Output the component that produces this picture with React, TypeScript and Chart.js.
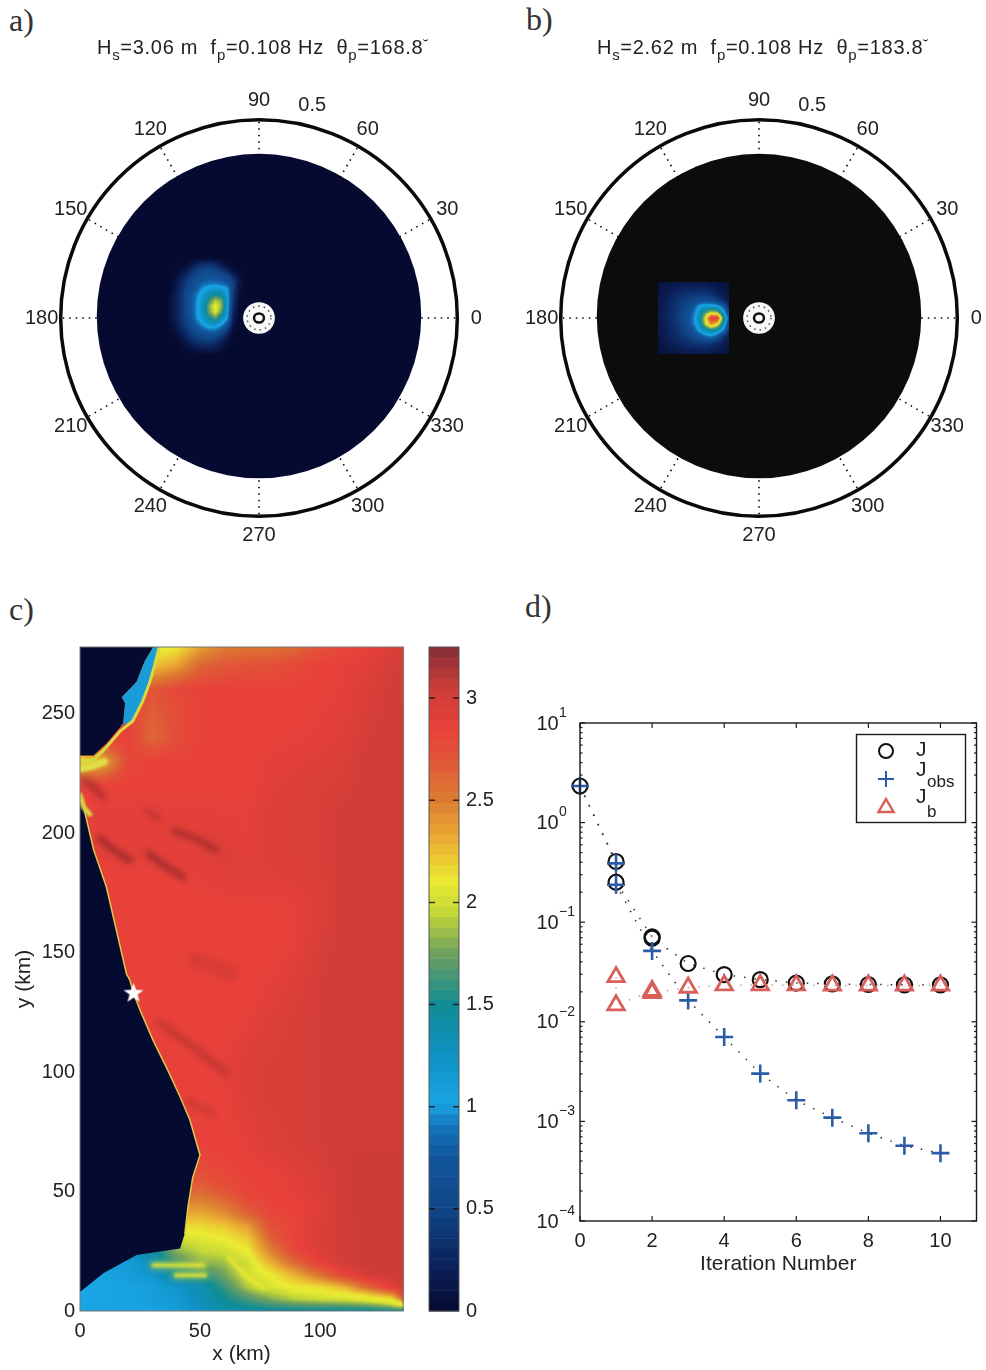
import React, { useEffect, useRef } from 'react';
import { Chart, registerables } from 'chart.js';
Chart.register(...registerables);

const FONT = '"Liberation Sans"';
const INK = '#222222';

// ---------- colour map ----------
const cmapValues = [0, 0.25, 0.5, 0.75, 0.9, 1.02, 1.25, 1.5, 1.75, 1.95, 2.1, 2.3, 2.5, 2.7, 2.85, 3.05, 3.25];
const cmapColors = [
  [5, 10, 48], [12, 36, 95], [16, 70, 135], [18, 85, 155], [20, 115, 185], [25, 165, 230],
  [15, 145, 195], [15, 140, 150], [110, 160, 95], [195, 215, 55], [235, 235, 50], [235, 175, 50],
  [220, 125, 50], [225, 85, 55], [232, 65, 58], [205, 60, 55], [130, 45, 55],
];
function colourOf(v: number): number[] {
  if (v <= cmapValues[0]) return cmapColors[0];
  for (let i = 1; i < cmapValues.length; i++) {
    if (v <= cmapValues[i]) {
      const t = (v - cmapValues[i - 1]) / (cmapValues[i] - cmapValues[i - 1]);
      return cmapColors[i].map((c, k) => cmapColors[i - 1][k] + (c - cmapColors[i - 1][k]) * t);
    }
  }
  return cmapColors[cmapColors.length - 1];
}

// ---------- polar panels ----------
const polarAngles = [0, 30, 60, 90, 120, 150, 180, 210, 240, 270, 300, 330];
const polarOuterRadius = 0.5;
const polarDiskRadius = 0.409;
const polarDiskCentreY = 0.005;
const polarHoleRadius = 0.04;
const polarHoleDotsRadius = 0.03;
const polarInnerRingRadius = 0.0125;
const polarLabelRadius = 0.548;

const specAXs = [-0.23, -0.215, -0.2, -0.185, -0.17, -0.155, -0.14, -0.125, -0.11, -0.095, -0.08, -0.065, -0.05, -0.035];
const specAYs = [0.15, 0.135, 0.12, 0.105, 0.09, 0.075, 0.06, 0.045, 0.03, 0.015, 0, -0.015, -0.03, -0.045, -0.06, -0.075, -0.09];
const specARows = [
  [0, 0, 0, 0, 0, 0.02, 0.04, 0.04, 0.02, 0, 0, 0, 0, 0],
  [0, 0, 0, 0.03, 0.12, 0.25, 0.32, 0.35, 0.28, 0.15, 0.04, 0, 0, 0],
  [0, 0, 0.05, 0.15, 0.32, 0.45, 0.52, 0.55, 0.5, 0.38, 0.25, 0.06, 0, 0],
  [0, 0.02, 0.12, 0.3, 0.47, 0.6, 0.65, 0.7, 0.65, 0.6, 0.5, 0.3, 0.08, 0],
  [0, 0.05, 0.2, 0.4, 0.55, 0.7, 0.8, 0.85, 0.85, 0.8, 0.7, 0.45, 0.12, 0],
  [0, 0.08, 0.28, 0.45, 0.6, 0.8, 1.0, 1.1, 1.15, 1.1, 1.0, 0.45, 0.08, 0],
  [0, 0.12, 0.3, 0.5, 0.7, 0.95, 1.15, 1.35, 1.45, 1.4, 1.1, 0.4, 0.05, 0],
  [0.01, 0.15, 0.32, 0.5, 0.75, 1.0, 1.25, 1.6, 1.9, 1.75, 1.15, 0.35, 0.02, 0],
  [0.02, 0.15, 0.32, 0.5, 0.75, 1.02, 1.3, 1.8, 2.1, 1.85, 1.15, 0.3, 0, 0],
  [0.02, 0.15, 0.32, 0.5, 0.75, 1.02, 1.25, 1.75, 2.05, 1.7, 1.1, 0.25, 0, 0],
  [0.01, 0.14, 0.3, 0.48, 0.7, 1.0, 1.2, 1.5, 1.7, 1.35, 1.02, 0.2, 0, 0],
  [0, 0.1, 0.28, 0.42, 0.62, 0.85, 1.05, 1.2, 1.25, 1.05, 0.75, 0.1, 0, 0],
  [0, 0.06, 0.2, 0.35, 0.5, 0.65, 0.8, 0.9, 0.9, 0.7, 0.4, 0.05, 0, 0],
  [0, 0.02, 0.12, 0.26, 0.4, 0.5, 0.55, 0.6, 0.55, 0.4, 0.2, 0, 0, 0],
  [0, 0, 0.04, 0.14, 0.26, 0.35, 0.4, 0.4, 0.35, 0.22, 0.06, 0, 0, 0],
  [0, 0, 0, 0.05, 0.12, 0.18, 0.2, 0.2, 0.18, 0.1, 0, 0, 0, 0],
  [0, 0, 0, 0, 0, 0.02, 0.04, 0.04, 0.02, 0, 0, 0, 0, 0],
];

const specBXs = [-0.255, -0.24, -0.225, -0.21, -0.195, -0.18, -0.165, -0.15, -0.135, -0.12, -0.105, -0.09, -0.075];
const specBYs = [0.09, 0.075, 0.06, 0.045, 0.03, 0.015, 0, -0.015, -0.03, -0.045, -0.06, -0.075, -0.09];
const specBRows = [
  [0.06, 0.1, 0.1, 0.13, 0.15, 0.15, 0.15, 0.15, 0.15, 0.12, 0.1, 0.08, 0.06],
  [0.1, 0.14, 0.15, 0.2, 0.22, 0.25, 0.25, 0.25, 0.25, 0.2, 0.15, 0.12, 0.08],
  [0.1, 0.15, 0.22, 0.28, 0.32, 0.35, 0.38, 0.4, 0.4, 0.35, 0.25, 0.15, 0.1],
  [0.12, 0.18, 0.25, 0.32, 0.4, 0.45, 0.5, 0.55, 0.6, 0.55, 0.42, 0.25, 0.15],
  [0.14, 0.2, 0.28, 0.36, 0.45, 0.55, 0.7, 1.05, 1.15, 1.15, 1.05, 0.75, 0.25],
  [0.15, 0.2, 0.28, 0.36, 0.48, 0.6, 0.85, 1.25, 1.65, 1.9, 1.8, 1.15, 0.45],
  [0.15, 0.22, 0.28, 0.38, 0.5, 0.65, 0.95, 1.35, 2.05, 2.9, 2.85, 1.6, 0.7],
  [0.15, 0.2, 0.28, 0.36, 0.48, 0.6, 0.9, 1.25, 1.95, 2.45, 2.15, 1.35, 0.5],
  [0.12, 0.2, 0.25, 0.34, 0.42, 0.55, 0.75, 1.1, 1.35, 1.55, 1.35, 1.0, 0.3],
  [0.12, 0.15, 0.25, 0.3, 0.38, 0.45, 0.55, 0.7, 0.9, 1.0, 0.8, 0.4, 0.18],
  [0.08, 0.15, 0.2, 0.25, 0.3, 0.35, 0.4, 0.45, 0.5, 0.45, 0.35, 0.22, 0.12],
  [0.08, 0.12, 0.15, 0.17, 0.2, 0.25, 0.25, 0.28, 0.28, 0.25, 0.2, 0.15, 0.08],
  [0.04, 0.08, 0.08, 0.1, 0.12, 0.15, 0.15, 0.15, 0.15, 0.15, 0.12, 0.08, 0.06],
];

// ---------- map panel ----------
const mapXTicks = [0, 50, 100];
const mapYTicks = [0, 50, 100, 150, 200, 250];
const mapXs = [0, 10, 20, 30, 40, 50, 60, 70, 80, 90, 100, 110, 120, 130, 135];
const mapYs = [0, 5, 10, 15, 20, 25, 30, 35, 40, 45, 50, 55, 60, 70, 80, 90, 100, 110, 120, 130, 140, 150, 160, 170, 180, 190, 200, 210, 220, 230, 240, 250, 260, 270, 278];
const mapRows = [
  [1.05, 1.05, 1.05, 1.05, 1.1, 1.25, 1.4, 1.42, 1.45, 1.45, 1.45, 1.45, 1.45, 1.45, 1.45],
  [1.02, 1.02, 1.05, 1.1, 1.15, 1.3, 1.5, 1.65, 1.8, 1.92, 1.97, 2, 2.05, 2.15, 2.7],
  [1.02, 1.02, 1.05, 1.1, 1.2, 1.35, 1.6, 1.9, 2.05, 2.1, 2.15, 2.3, 2.6, 2.9, 3.05],
  [1.05, 1.05, 1.1, 1.2, 1.45, 1.55, 1.75, 2, 2.1, 2.3, 2.55, 2.8, 3, 3.05, 3.05],
  [1.1, 1.1, 1.1, 1.3, 1.6, 1.8, 1.85, 2, 2.3, 2.6, 2.85, 3, 3.05, 3.05, 3.05],
  [1.3, 1.3, 1.3, 1.4, 1.8, 1.95, 2, 2.1, 2.5, 2.8, 2.95, 3.02, 3.05, 3.05, 3.05],
  [2, 2, 2, 2, 2, 2.05, 2.1, 2.2, 2.65, 2.85, 2.95, 3.02, 3.05, 3.05, 3.05],
  [2.1, 2.1, 2.1, 2.1, 2.1, 2.15, 2.2, 2.35, 2.75, 2.85, 2.95, 3.02, 3.05, 3.05, 3.05],
  [2.3, 2.3, 2.3, 2.3, 2.3, 2.3, 2.4, 2.6, 2.8, 2.85, 2.92, 3.02, 3.05, 3.05, 3.05],
  [2.45, 2.45, 2.45, 2.45, 2.45, 2.45, 2.55, 2.75, 2.85, 2.85, 2.92, 3.03, 3.05, 3.05, 3.05],
  [2.6, 2.6, 2.6, 2.6, 2.6, 2.6, 2.7, 2.82, 2.85, 2.88, 2.95, 3.03, 3.05, 3.05, 3.05],
  [2.7, 2.7, 2.7, 2.7, 2.7, 2.7, 2.78, 2.85, 2.85, 2.9, 2.95, 3.03, 3.05, 3.05, 3.05],
  [2.78, 2.78, 2.78, 2.78, 2.78, 2.78, 2.82, 2.85, 2.87, 2.92, 2.97, 3.03, 3.05, 3.05, 3.05],
  [2.85, 2.85, 2.85, 2.85, 2.85, 2.85, 2.85, 2.87, 2.95, 2.97, 3, 3.03, 3.03, 3.03, 3.03],
  [2.85, 2.85, 2.85, 2.85, 2.85, 2.85, 2.85, 2.9, 2.96, 2.97, 3, 3.03, 3.03, 3.03, 3.03],
  [2.85, 2.85, 2.85, 2.85, 2.85, 2.85, 2.85, 2.93, 2.97, 2.97, 3, 3.03, 3.03, 3.03, 3.03],
  [2.85, 2.85, 2.85, 2.85, 2.85, 2.85, 2.88, 2.93, 2.97, 2.97, 3, 3.03, 3.03, 3.03, 3.03],
  [2.85, 2.85, 2.85, 2.85, 2.85, 2.85, 2.86, 2.92, 2.96, 2.97, 3, 3.03, 3.03, 3.03, 3.03],
  [2.85, 2.85, 2.85, 2.85, 2.85, 2.85, 2.85, 2.87, 2.95, 2.97, 3, 3.03, 3.03, 3.03, 3.03],
  [2.85, 2.85, 2.85, 2.85, 2.85, 2.85, 2.85, 2.85, 2.9, 2.95, 3, 3.03, 3.03, 3.03, 3.03],
  [2.85, 2.85, 2.85, 2.85, 2.85, 2.85, 2.85, 2.85, 2.87, 2.93, 3, 3.03, 3.03, 3.03, 3.03],
  [2.85, 2.85, 2.85, 2.85, 2.85, 2.85, 2.85, 2.85, 2.85, 2.88, 2.98, 3.03, 3.03, 3.03, 3.03],
  [2.85, 2.85, 2.85, 2.85, 2.85, 2.85, 2.85, 2.85, 2.85, 2.87, 2.95, 3.03, 3.03, 3.03, 3.03],
  [2.85, 2.85, 2.85, 2.85, 2.85, 2.85, 2.85, 2.85, 2.86, 2.87, 2.92, 3.02, 3.03, 3.03, 3.03],
  [2.85, 2.85, 2.85, 2.85, 2.85, 2.87, 2.9, 2.9, 2.9, 2.92, 2.95, 3.02, 3.03, 3.03, 3.03],
  [2.88, 2.88, 2.88, 2.88, 2.88, 2.9, 2.92, 2.9, 2.92, 2.94, 2.96, 3.02, 3.03, 3.03, 3.03],
  [2.88, 2.88, 2.88, 2.88, 2.88, 2.9, 2.9, 2.87, 2.93, 2.95, 2.96, 3.02, 3.03, 3.03, 3.03],
  [2.85, 2.88, 2.88, 2.88, 2.88, 2.88, 2.87, 2.87, 2.93, 2.95, 2.96, 3.02, 3.03, 3.03, 3.03],
  [2.9, 2.85, 2.85, 2.85, 2.85, 2.85, 2.85, 2.85, 2.9, 2.93, 2.96, 2.97, 3.03, 3.03, 3.03],
  [2.1, 2.3, 2.8, 2.85, 2.85, 2.85, 2.85, 2.85, 2.88, 2.9, 2.92, 2.95, 3.03, 3.03, 3.03],
  [2.85, 2.85, 2.85, 2.6, 2.75, 2.85, 2.85, 2.85, 2.85, 2.87, 2.88, 2.92, 3, 3.03, 3.03],
  [2.85, 2.85, 2.85, 2.65, 2.75, 2.85, 2.85, 2.85, 2.85, 2.85, 2.87, 2.9, 2.97, 3.03, 3.03],
  [2.85, 2.85, 2.85, 2.7, 2.8, 2.85, 2.85, 2.85, 2.85, 2.85, 2.85, 2.88, 2.95, 3.02, 3.02],
  [2.25, 2.25, 2.25, 2.25, 2.35, 2.62, 2.7, 2.72, 2.75, 2.8, 2.85, 2.87, 2.9, 3, 3],
  [2.05, 2.05, 2.05, 2.05, 2.1, 2.35, 2.5, 2.55, 2.55, 2.6, 2.72, 2.8, 2.85, 2.95, 3],
];
const landSouthX = [0, 9.7, 23.6, 41.7, 43.7, 45, 47, 50, 45.8, 41.7, 36, 30.6, 25, 22.3, 20.8, 19.4, 11, 5.7, 1.5, 0];
const landSouthY = [8, 15.8, 23.4, 26.2, 32.5, 43.7, 56, 65.3, 80, 89.7, 102, 113, 126, 133, 138.5, 141, 177.5, 193, 211, 213.7];
const landNorthX = [0, 5.6, 11, 18, 18.8, 17.4, 23.6, 27, 30.6, 0];
const landNorthY = [232.6, 232.6, 237.6, 246, 254.4, 257, 263.4, 272, 278, 278];
const shoalCyanX = [16.5, 22, 26, 29, 31, 33, 30.6, 27, 23.6, 17.4, 18.8, 18];
const shoalCyanY = [245, 247, 255, 263, 270, 278, 278, 272, 263.4, 257, 254.4, 246];
const coastEdgeX = [43.7, 45, 47, 50, 45.8, 41.7, 36, 30.6, 25, 22.3, 20.8, 19.4, 11, 5.7, 1.5, 0];
const coastEdgeY = [32.5, 43.7, 56, 65.3, 80, 89.7, 102, 113, 126, 133, 138.5, 141, 177.5, 193, 211, 213.7];
const coastYellowX = [0, 6, 11, 17, 22, 26, 29, 31, 33];
const coastYellowY = [230, 231, 236, 243, 247, 255, 263, 270, 278];
const capeYellowX = [0, 5, 10];
const capeYellowY = [227, 228, 230];
const headlandYellowX = [0, 1.5, 4];
const headlandYellowY = [216, 211, 208];
const streakXs = [[8.3, 14, 20.8], [28.3, 36, 43], [38.9, 48, 57], [1.3, 5, 9.7], [27.7, 30, 33], [33.3, 48, 61], [44.5, 50, 55.6], [48.6, 56, 63]];
const streakYs = [[198, 193, 188.7], [191.6, 186, 181.6], [201, 198, 193], [223, 220, 215], [209.6, 208, 206], [120.5, 110, 99.6], [88, 85, 82.8], [147, 144, 141]];
const streakStrengths = [0.6, 0.6, 0.5, 0.55, 0.35, 0.28, 0.28, 0.14];
const streakWidths = [6, 6, 6, 5, 5, 7, 5, 14];
const plumeYellow = [
  { x: [30.6, 51.4], y: [19.2, 19.2] },
  { x: [40, 52], y: [15, 15] },
  { x: [62, 70, 76], y: [22, 14, 10] },
  { x: [88, 112, 133], y: [9, 6.5, 3] },
];
const starX = [22.3];
const starY = [133];

// ---------- colour bar ----------
const cbTicks = [0, 0.5, 1, 1.5, 2, 2.5, 3];
const cbMax = 3.25;
const cbLevels = 64;

// ---------- iteration panel ----------
const iterXTicks = [0, 2, 4, 6, 8, 10];
const iterDecades = [1e-4, 1e-3, 1e-2, 1e-1, 1, 10];
const iterDecadeExps = ['\u22124', '\u22123', '\u22122', '\u22121', '0', '1'];
const iterMinorMultipliers = [2, 3, 4, 5, 6, 7, 8, 9];
const jIter = [0, 1, 1, 2, 2, 3, 4, 5, 6, 7, 8, 9, 10];
const jValues = [2.33, 0.407, 0.252, 0.0713, 0.069, 0.0385, 0.0298, 0.0265, 0.0245, 0.024, 0.0237, 0.0235, 0.0235];
const jObsIter = [0, 1, 1, 2, 3, 4, 5, 6, 7, 8, 9, 10];
const jObsValues = [2.33, 0.39, 0.238, 0.0515, 0.0164, 0.00703, 0.00302, 0.00163, 0.00109, 0.00076, 0.00057, 0.00048];
const jbIter = [1, 1, 2, 2, 3, 4, 5, 6, 7, 8, 9, 10];
const jbValues = [0.0282, 0.0147, 0.0205, 0.0195, 0.0221, 0.0233, 0.0234, 0.0233, 0.0232, 0.0232, 0.0232, 0.0232];

const J_COLOR = '#111111';
const OBS_COLOR = '#2b5ca8';
const B_COLOR = '#d9605a';

// ---------- helpers ----------
function locate(arr: number[], v: number): [number, number] {
  for (let i = 0; i < arr.length - 1; i++) {
    const a = arr[i], b = arr[i + 1];
    if ((v >= a && v <= b) || (v <= a && v >= b)) return [i, (v - a) / (b - a)];
  }
  return [-1, 0];
}
function drawField(chart: any, xs: number[], ys: number[], rows: number[][]) {
  const { x, y } = chart.scales;
  const x0 = Math.round(Math.min(x.getPixelForValue(xs[0]), x.getPixelForValue(xs[xs.length - 1])));
  const x1 = Math.round(Math.max(x.getPixelForValue(xs[0]), x.getPixelForValue(xs[xs.length - 1])));
  const y0 = Math.round(Math.min(y.getPixelForValue(ys[0]), y.getPixelForValue(ys[ys.length - 1])));
  const y1 = Math.round(Math.max(y.getPixelForValue(ys[0]), y.getPixelForValue(ys[ys.length - 1])));
  const w = x1 - x0, h = y1 - y0;
  const off = document.createElement('canvas');
  off.width = w; off.height = h;
  const octx = off.getContext('2d')!;
  const img = octx.createImageData(w, h);
  for (let j = 0; j < h; j++) {
    const [r, tr] = locate(ys, y.getValueForPixel(y0 + j + 0.5));
    for (let i = 0; i < w; i++) {
      const [c, tc] = locate(xs, x.getValueForPixel(x0 + i + 0.5));
      const p = (j * w + i) * 4;
      if (r < 0 || c < 0) { img.data[p + 3] = 0; continue; }
      const a = rows[r][c] * (1 - tc) + rows[r][c + 1] * tc;
      const b = rows[r + 1][c] * (1 - tc) + rows[r + 1][c + 1] * tc;
      const col = colourOf(a * (1 - tr) + b * tr);
      img.data[p] = col[0]; img.data[p + 1] = col[1]; img.data[p + 2] = col[2]; img.data[p + 3] = 255;
    }
  }
  octx.putImageData(img, 0, 0);
  chart.ctx.drawImage(off, x0, y0);
}
function fillPolygon(chart: any, xs: number[], ys: number[], color: string) {
  const { x, y } = chart.scales;
  const ctx = chart.ctx;
  ctx.beginPath();
  xs.forEach((v, i) => {
    const px = x.getPixelForValue(v), py = y.getPixelForValue(ys[i]);
    if (i === 0) ctx.moveTo(px, py); else ctx.lineTo(px, py);
  });
  ctx.closePath();
  ctx.fillStyle = color;
  ctx.fill();
}
const zip = (xs: number[], ys: number[]) => xs.map((v, i) => ({ x: v, y: ys[i] }));
const baseOptions = {
  responsive: false,
  animation: false as const,
  events: [] as string[],
};
const axisFont = { family: FONT, size: 20 };
const titleFont = { family: FONT, size: 21 };
const quiet = { legend: { display: false }, tooltip: { enabled: false } };
const noGrid = { display: false, drawTicks: false };
const fixedTicks = (list: number[]) => (axis: any) => { axis.ticks = list.map((value) => ({ value })); };
const fitHeight = (h: number) => (s: any) => { s.height = h; s.paddingLeft = 0; s.paddingRight = 0; };
const fitWidth = (w: number) => (s: any) => { s.width = w; s.paddingTop = 0; s.paddingBottom = 0; };

// ---------- chart configs ----------
function polarConfig(diskColor: string, xs: number[], ys: number[], rows: number[][]) {
  const spokes = polarAngles.map((deg) => {
    const c = Math.cos((deg * Math.PI) / 180), s = Math.sin((deg * Math.PI) / 180);
    return {
      data: [{ x: polarDiskRadius * c, y: polarDiskRadius * s }, { x: polarOuterRadius * c, y: polarOuterRadius * s }],
      showLine: true, borderColor: '#000', borderWidth: 1.6, borderDash: [1.5, 5], pointRadius: 0,
    };
  });
  const ringPx = (chart: any, r: number) => chart.scales.x.getPixelForValue(r) - chart.scales.x.getPixelForValue(0);
  const plugin = {
    id: 'polar',
    beforeDatasetsDraw(chart: any) {
      const { x, y } = chart.scales;
      const ctx = chart.ctx;
      const cx = x.getPixelForValue(0), cy = y.getPixelForValue(0);
      ctx.save();
      ctx.beginPath(); ctx.arc(cx, y.getPixelForValue(polarDiskCentreY), ringPx(chart, polarDiskRadius), 0, Math.PI * 2);
      ctx.fillStyle = diskColor; ctx.fill();
      drawField(chart, xs, ys, rows);
      ctx.beginPath(); ctx.arc(cx, cy, ringPx(chart, polarOuterRadius), 0, Math.PI * 2);
      ctx.strokeStyle = '#0a0a0a'; ctx.lineWidth = 3.5; ctx.stroke();
      ctx.beginPath(); ctx.arc(cx, cy, ringPx(chart, polarHoleRadius), 0, Math.PI * 2);
      ctx.fillStyle = '#f8f8f8'; ctx.fill();
      ctx.beginPath(); ctx.arc(cx, cy, ringPx(chart, polarHoleDotsRadius), 0, Math.PI * 2);
      ctx.strokeStyle = '#555'; ctx.lineWidth = 1.6; ctx.setLineDash([1.5, 4]); ctx.stroke();
      ctx.setLineDash([]);
      ctx.beginPath(); ctx.ellipse(cx, cy, ringPx(chart, polarInnerRingRadius), ringPx(chart, polarInnerRingRadius) * 0.92, 0, 0, Math.PI * 2);
      ctx.strokeStyle = '#111'; ctx.lineWidth = 2.5; ctx.stroke();
      ctx.restore();
    },
    afterDatasetsDraw(chart: any) {
      const { x, y } = chart.scales;
      const ctx = chart.ctx;
      ctx.save();
      ctx.font = `20px ${FONT}`; ctx.fillStyle = INK; ctx.textAlign = 'center'; ctx.textBaseline = 'middle';
      polarAngles.forEach((deg) => {
        const c = Math.cos((deg * Math.PI) / 180), s = Math.sin((deg * Math.PI) / 180);
        ctx.fillText(String(deg), x.getPixelForValue(polarLabelRadius * c), y.getPixelForValue(polarLabelRadius * s));
      });
      ctx.fillText('0.5', x.getPixelForValue(0.134), y.getPixelForValue(0.537));
      ctx.restore();
    },
  };
  return {
    type: 'scatter',
    data: { datasets: spokes },
    options: {
      ...baseOptions,
      layout: { padding: 0, autoPadding: false },
      scales: {
        x: { type: 'linear', min: -0.6, max: 0.6, display: false },
        y: { type: 'linear', min: -0.6, max: 0.6, display: false },
      },
      plugins: quiet,
    },
    plugins: [plugin],
  };
}

function mapConfig() {
  const star = document.createElement('canvas');
  star.width = 22; star.height = 22;
  const sctx = star.getContext('2d')!;
  sctx.fillStyle = '#ffffff';
  sctx.beginPath();
  for (let i = 0; i < 10; i++) {
    const r = i % 2 === 0 ? 10.5 : 4.2;
    const a = -Math.PI / 2 + (i * Math.PI) / 5;
    const px = 11 + r * Math.cos(a), py = 11 + r * Math.sin(a);
    if (i === 0) sctx.moveTo(px, py); else sctx.lineTo(px, py);
  }
  sctx.closePath(); sctx.fill();

  const line = (xs: number[], ys: number[], color: string, width: number, extra: any = {}) => ({
    data: zip(xs, ys), showLine: true, borderColor: color, borderWidth: width, pointRadius: 0, borderCapStyle: 'round', borderJoinStyle: 'round', ...extra,
  });
  const datasets: any[] = [];
  datasets.push({ data: zip(starX, starY), pointStyle: star, pointRadius: 11, showLine: false, clip: false });
  streakXs.forEach((xs, i) => {
    datasets.push(line(xs, streakYs[i], `rgba(105,25,30,${streakStrengths[i]})`, streakWidths[i], { soft: 3 }));
  });
  plumeYellow.forEach((s) => {
    datasets.push(line(s.x, s.y, 'rgba(232,232,50,0.85)', 4, { tension: 0.3, soft: 1.5 }));
    datasets.push(line(s.x, s.y, 'rgba(232,232,50,0.4)', 9, { tension: 0.3, soft: 3 }));
  });
  datasets.push(line(coastEdgeX, coastEdgeY, '#dcc84a', 1.5));
  datasets.push(line(headlandYellowX, headlandYellowY, '#d8d840', 5, { soft: 1 }));
  datasets.push(line(capeYellowX, capeYellowY, '#dede48', 7, { soft: 1 }));
  datasets.push(line(coastYellowX, coastYellowY, '#d8d840', 3, { soft: 0.7 }));

  const plugin = {
    id: 'mapField',
    beforeDatasetsDraw(chart: any) {
      const ctx = chart.ctx;
      ctx.save();
      drawField(chart, mapXs, mapYs, mapRows);
      fillPolygon(chart, landSouthX, landSouthY, '#050a30');
      fillPolygon(chart, landNorthX, landNorthY, '#050a30');
      fillPolygon(chart, shoalCyanX, shoalCyanY, '#1a9cd8');
      ctx.restore();
    },
    beforeDatasetDraw(chart: any, args: any) {
      const soft = chart.data.datasets[args.index].soft;
      if (soft) chart.ctx.filter = `blur(${soft}px)`;
    },
    afterDatasetDraw(chart: any) {
      chart.ctx.filter = 'none';
    },
    afterDraw(chart: any) {
      const { left, top, width, height } = chart.chartArea;
      chart.ctx.save();
      chart.ctx.strokeStyle = '#777';
      chart.ctx.lineWidth = 1;
      chart.ctx.strokeRect(left, top, width, height);
      chart.ctx.restore();
    },
  };
  return {
    type: 'scatter',
    data: { datasets },
    options: {
      ...baseOptions,
      layout: { padding: { top: 10, right: 10 }, autoPadding: false },
      scales: {
        x: {
          type: 'linear', min: 0, max: 134.6, afterBuildTicks: fixedTicks(mapXTicks),
          afterFit: fitHeight(59),
          grid: noGrid, border: { display: false },
          ticks: { font: axisFont, color: INK, padding: 8, maxRotation: 0 },
          title: { display: true, text: 'x (km)', font: titleFont, color: INK, padding: { top: 0, bottom: 3 } },
        },
        y: {
          type: 'linear', min: 0, max: 278, afterBuildTicks: fixedTicks(mapYTicks),
          afterFit: fitWidth(80),
          grid: noGrid, border: { display: false },
          ticks: { font: axisFont, color: INK, padding: 5 },
          title: { display: true, text: 'y (km)', font: titleFont, color: INK, padding: { top: 12, bottom: 0 } },
        },
      },
      plugins: quiet,
    },
    plugins: [plugin],
  };
}

function colourbarConfig() {
  const plugin = {
    id: 'colourbar',
    beforeDatasetsDraw(chart: any) {
      const { y } = chart.scales;
      const { left, width } = chart.chartArea;
      const ctx = chart.ctx;
      ctx.save();
      for (let i = 0; i < cbLevels; i++) {
        const lo = (cbMax * i) / cbLevels, hi = (cbMax * (i + 1)) / cbLevels;
        const c = colourOf((lo + hi) / 2);
        ctx.fillStyle = `rgb(${c[0]},${c[1]},${c[2]})`;
        const yTop = y.getPixelForValue(hi), yBot = y.getPixelForValue(lo);
        ctx.fillRect(left, yTop, width, yBot - yTop + 0.5);
      }
      ctx.restore();
    },
    afterDraw(chart: any) {
      const { y } = chart.scales;
      const { left, right, top, width, height } = chart.chartArea;
      const ctx = chart.ctx;
      ctx.save();
      ctx.strokeStyle = '#555'; ctx.lineWidth = 1;
      ctx.strokeRect(left, top, width, height);
      ctx.strokeStyle = 'rgba(20,10,10,0.8)'; ctx.lineWidth = 1.5;
      cbTicks.slice(1).forEach((v) => {
        const py = y.getPixelForValue(v);
        ctx.beginPath(); ctx.moveTo(left, py); ctx.lineTo(left + 6, py); ctx.moveTo(right - 6, py); ctx.lineTo(right, py); ctx.stroke();
      });
      ctx.restore();
    },
  };
  return {
    type: 'scatter',
    data: { datasets: [] },
    options: {
      ...baseOptions,
      layout: { padding: { top: 10, left: 10, bottom: 59 }, autoPadding: false },
      scales: {
        x: { type: 'linear', min: 0, max: 1, display: false },
        y: {
          type: 'linear', position: 'right', min: 0, max: cbMax, afterBuildTicks: fixedTicks(cbTicks),
          afterFit: fitWidth(60),
          grid: noGrid, border: { display: false },
          ticks: { font: axisFont, color: INK, padding: 7, callback: (v: number) => String(v) },
        },
      },
      plugins: quiet,
    },
    plugins: [plugin],
  };
}

function iterationConfig() {
  const minors: number[] = [];
  iterDecades.slice(0, -1).forEach((d) => iterMinorMultipliers.forEach((m) => minors.push(d * m)));
  const plugin = {
    id: 'iterFrame',
    afterDraw(chart: any) {
      const { x, y } = chart.scales;
      const { left, right, top, bottom, width, height } = chart.chartArea;
      const ctx = chart.ctx;
      ctx.save();
      ctx.strokeStyle = '#1a1a1a'; ctx.lineWidth = 1.4;
      ctx.strokeRect(left, top, width, height);
      ctx.lineWidth = 1.2;
      const seg = (x0: number, y0: number, x1: number, y1: number) => { ctx.beginPath(); ctx.moveTo(x0, y0); ctx.lineTo(x1, y1); ctx.stroke(); };
      iterDecades.forEach((d) => { const p = y.getPixelForValue(d); seg(left, p, left + 5, p); seg(right, p, right - 5, p); });
      minors.forEach((d) => { const p = y.getPixelForValue(d); seg(left, p, left + 2.5, p); seg(right, p, right - 2.5, p); });
      iterXTicks.forEach((v) => { const p = x.getPixelForValue(v); seg(p, bottom, p, bottom - 5); seg(p, top, p, top + 5); });

      // decade labels
      ctx.fillStyle = INK; ctx.textBaseline = 'middle';
      iterDecades.forEach((d, i) => {
        const p = y.getPixelForValue(d);
        ctx.font = `20px ${FONT}`; ctx.textAlign = 'left';
        ctx.fillText('10', left - 43.5, p + 1);
        ctx.font = `14px ${FONT}`;
        ctx.fillText(iterDecadeExps[i], left - 21, p - 10);
      });

      // legend
      const bx = 356.5, by = 34.5, bw = 109, bh = 88;
      ctx.fillStyle = '#fff'; ctx.fillRect(bx, by, bw, bh);
      ctx.strokeStyle = '#1a1a1a'; ctx.lineWidth = 1.4; ctx.strokeRect(bx, by, bw, bh);
      const mx = 386;
      ctx.strokeStyle = J_COLOR; ctx.lineWidth = 2;
      ctx.beginPath(); ctx.arc(mx, 51, 7, 0, Math.PI * 2); ctx.stroke();
      ctx.strokeStyle = OBS_COLOR; ctx.lineWidth = 2;
      seg(mx - 8, 79, mx + 8, 79); seg(mx, 71, mx, 87);
      ctx.strokeStyle = B_COLOR; ctx.lineWidth = 2.5;
      ctx.beginPath(); ctx.moveTo(mx, 99); ctx.lineTo(mx + 7.5, 112); ctx.lineTo(mx - 7.5, 112); ctx.closePath(); ctx.stroke();
      ctx.fillStyle = INK; ctx.textAlign = 'left';
      ctx.font = `21px ${FONT}`;
      const tx = 416;
      ctx.fillText('J', tx, 50);
      ctx.fillText('J', tx, 70);
      ctx.fillText('J', tx, 97);
      ctx.font = `17px ${FONT}`;
      ctx.fillText('obs', tx + 11, 82);
      ctx.fillText('b', tx + 11, 112);
      ctx.restore();
    },
  };
  const series = (xs: number[], ys: number[], color: string, lineColor: string, style: string, radius: number, width: number, order: number) => ({
    data: zip(xs, ys), showLine: true, clip: false, order,
    borderColor: lineColor, borderWidth: 1.5, borderDash: [1.5, 9],
    pointStyle: style, pointRadius: radius, pointBorderColor: color, pointBorderWidth: width, pointBackgroundColor: 'rgba(0,0,0,0)',
  });
  return {
    type: 'scatter',
    data: {
      datasets: [
        series(jIter, jValues, J_COLOR, '#333333', 'circle', 7.5, 2.2, 3),
        series(jObsIter, jObsValues, OBS_COLOR, '#333333', 'cross', 9, 2.6, 2),
        series(jbIter, jbValues, B_COLOR, '#b8a8a8', 'triangle', 9.5, 2.8, 1),
      ],
    },
    options: {
      ...baseOptions,
      layout: { padding: { top: 23, right: 9.5 }, autoPadding: false },
      scales: {
        x: {
          type: 'linear', min: 0, max: 11, afterBuildTicks: fixedTicks(iterXTicks),
          afterFit: fitHeight(69),
          grid: noGrid, border: { display: false },
          ticks: { font: axisFont, color: INK, padding: 8, maxRotation: 0 },
          title: { display: true, text: 'Iteration Number', font: titleFont, color: INK, padding: { top: 0, bottom: 13 } },
        },
        y: {
          type: 'logarithmic', min: 1e-4, max: 10, afterBuildTicks: fixedTicks(iterDecades),
          afterFit: fitWidth(80),
          grid: noGrid, border: { display: false },
          ticks: { display: false },
        },
      },
      plugins: quiet,
    },
    plugins: [plugin],
  };
}

// ---------- components ----------
function ChartBox({ left, top, width, height, make }: { left: number; top: number; width: number; height: number; make: () => any }) {
  const ref = useRef<HTMLCanvasElement | null>(null);
  useEffect(() => {
    const chart = new Chart(ref.current as HTMLCanvasElement, make());
    return () => chart.destroy();
  }, []);
  return <canvas ref={ref} width={width} height={height} style={{ position: 'absolute', left, top, width, height, display: 'block', filter: 'blur(0.45px)' }} />;
}

const sub = (t: string) => <span style={{ fontSize: 15, position: 'relative', top: 6 }}>{t}</span>;

function Title({ left, hs, th }: { left: number; hs: string; th: string }) {
  return (
    <div style={{ position: 'absolute', left, top: 36, font: `20px ${FONT}`, letterSpacing: 0.7, color: INK, whiteSpace: 'pre', filter: 'blur(0.3px)' }}>
      H{sub('s')}={hs} m  f{sub('p')}=0.108 Hz  θ{sub('p')}={th}<span style={{ fontSize: 15, position: 'relative', top: -4 }}>˘</span>
    </div>
  );
}
function Letter({ left, top, text }: { left: number; top: number; text: string }) {
  return <div style={{ position: 'absolute', left, top, font: '32px "Liberation Serif"', color: '#333' }}>{text}</div>;
}

export default function App() {
  return (
    <div style={{ position: 'absolute', left: 0, top: 0, width: 986, height: 1370, overflow: 'hidden', background: '#fff' }}>
      <Letter left={9} top={2} text="a)" />
      <Letter left={526} top={1} text="b)" />
      <Letter left={9} top={591} text="c)" />
      <Letter left={525} top={588} text="d)" />
      <Title left={97} hs="3.06" th="168.8" />
      <Title left={597} hs="2.62" th="183.8" />
      <ChartBox left={21} top={80} width={476} height={476} make={() => polarConfig('#060a30', specAXs, specAYs, specARows)} />
      <ChartBox left={521} top={80} width={476} height={476} make={() => polarConfig('#0c0c0c', specBXs, specBYs, specBRows)} />
      <ChartBox left={0} top={637} width={413} height={733} make={mapConfig} />
      <ChartBox left={419} top={637} width={100} height={733} make={colourbarConfig} />
      <ChartBox left={500} top={700} width={486} height={590} make={iterationConfig} />
    </div>
  );
}
